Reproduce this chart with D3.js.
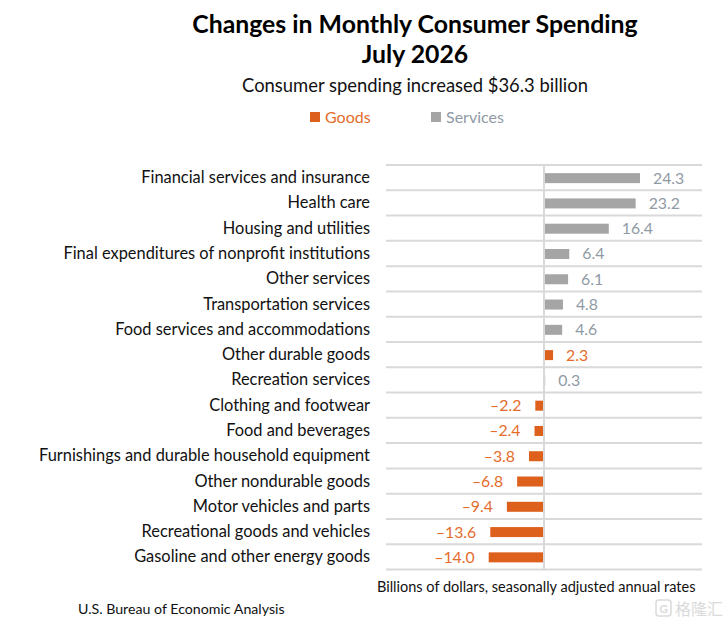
<!DOCTYPE html>
<html>
<head>
  <meta charset="utf-8" />
  <title>Changes in Monthly Consumer Spending</title>
  <script src="https://cdn.jsdelivr.net/npm/d3@7"></script>
  <style>
    body { margin: 0; background: white; }
    svg { font-family: Lato, "Open Sans", sans-serif; }
  </style>
</head>
<body>
  <svg id="chart" width="728" height="626"></svg>
  <script>
    var categories = [
      "Financial services and insurance",
      "Health care",
      "Housing and utilities",
      "Final expenditures of nonprofit institutions",
      "Other services",
      "Transportation services",
      "Food services and accommodations",
      "Other durable goods",
      "Recreation services",
      "Clothing and footwear",
      "Food and beverages",
      "Furnishings and durable household equipment",
      "Other nondurable goods",
      "Motor vehicles and parts",
      "Recreational goods and vehicles",
      "Gasoline and other energy goods"
    ];
    var values = [24.3, 23.2, 16.4, 6.4, 6.1, 4.8, 4.6, 2.3, 0.3, -2.2, -2.4, -3.8, -6.8, -9.4, -13.6, -14.0];
    var groups = ["Services", "Services", "Services", "Services", "Services", "Services", "Services", "Goods",
                  "Services", "Goods", "Goods", "Goods", "Goods", "Goods", "Goods", "Goods"];
    var legendItems = ["Goods", "Services"];

    var barColor = { Goods: "#dd601c", Services: "#a5a5a5" };
    var textColor = { Goods: "#e46c2c", Services: "#8f9aa5" };

    var svg = d3.select("#chart");

    var x = d3.scaleLinear().domain([-40, 40]).range([386, 702]);
    var y = d3.scaleBand().domain(categories).range([165, 569.5]);
    var barH = 10;

    // title block
    svg.append("text").attr("x", 415).attr("y", 33).attr("text-anchor", "middle")
      .attr("font-size", 24.8).attr("font-weight", "bold").attr("fill", "#000")
      .text("Changes in Monthly Consumer Spending");
    svg.append("text").attr("x", 415).attr("y", 63).attr("text-anchor", "middle")
      .attr("font-size", 24.8).attr("font-weight", "bold").attr("fill", "#000")
      .text("July 2026");
    svg.append("text").attr("x", 415).attr("y", 92).attr("text-anchor", "middle")
      .attr("font-size", 18.4).attr("fill", "#111")
      .text("Consumer spending increased $36.3 billion");

    // legend
    var lg = svg.selectAll(".lg").data(legendItems).enter().append("g")
      .attr("transform", function(d, i) { return "translate(" + (310 + i * 121) + ",112)"; });
    lg.append("rect").attr("width", 10).attr("height", 10)
      .attr("fill", function(d) { return barColor[d]; });
    lg.append("text").attr("x", 15).attr("y", 10.5).attr("font-size", 16)
      .attr("fill", function(d) { return textColor[d]; })
      .text(function(d) { return d; });

    // horizontal gridlines between rows
    var lines = categories.map(function(c) { return y(c); }).concat([y.range()[1]]);
    svg.selectAll(".grid").data(lines).enter().append("line")
      .attr("x1", x.range()[0]).attr("x2", x.range()[1])
      .attr("y1", function(d) { return d; }).attr("y2", function(d) { return d; })
      .attr("stroke", "#d9d9d9").attr("stroke-width", 2);

    // bars
    svg.selectAll(".bar").data(values).enter().append("rect")
      .attr("x", function(d) { return x(Math.min(0, d)); })
      .attr("width", function(d) { return Math.abs(x(d) - x(0)); })
      .attr("y", function(d, i) { return y(categories[i]) + y.bandwidth() / 2 - barH / 2 + 0.5; })
      .attr("height", barH)
      .attr("fill", function(d, i) { return barColor[groups[i]]; });

    // zero line
    svg.append("line").attr("x1", x(0)).attr("x2", x(0))
      .attr("y1", y.range()[0]).attr("y2", y.range()[1])
      .attr("stroke", "#d9d9d9").attr("stroke-width", 2);

    // category labels
    svg.selectAll(".cat").data(categories).enter().append("text")
      .attr("x", 370).attr("y", function(d) { return y(d) + y.bandwidth() / 2 + 5.5; })
      .attr("text-anchor", "end").attr("font-size", 16.4).attr("fill", "#111")
      .text(function(d) { return d; });

    // value labels
    svg.selectAll(".val").data(values).enter().append("text")
      .attr("x", function(d) { return d >= 0 ? x(d) + 13 : x(d) - 14; })
      .attr("y", function(d, i) { return y(categories[i]) + y.bandwidth() / 2 + 6; })
      .attr("text-anchor", function(d) { return d >= 0 ? "start" : "end"; })
      .attr("font-size", 15.8)
      .attr("fill", function(d, i) { return textColor[groups[i]]; })
      .text(function(d) { return d < 0 ? "\u2013" + Math.abs(d).toFixed(1) : d.toFixed(1); });

    // notes
    svg.append("text").attr("x", 377).attr("y", 592).attr("font-size", 14.5).attr("fill", "#111")
      .text("Billions of dollars, seasonally adjusted annual rates");
    svg.append("text").attr("x", 78).attr("y", 614).attr("font-size", 14.2).attr("fill", "#111")
      .text("U.S. Bureau of Economic Analysis");

    // watermark
    svg.append("rect").attr("x", 656).attr("y", 600).attr("width", 15).attr("height", 16).attr("rx", 3)
      .attr("fill", "none").attr("stroke", "#dadada").attr("stroke-width", 1.5);
    svg.append("text").attr("x", 663.5).attr("y", 613).attr("text-anchor", "middle")
      .attr("font-size", 12).attr("font-weight", "bold").attr("fill", "#dadada").text("G");
    svg.append("text").attr("x", 675).attr("y", 615).attr("font-size", 16)
      .attr("font-family", "Noto Sans CJK SC").attr("fill", "#dadada")
      .text("格隆汇");
  </script>
</body>
</html>
